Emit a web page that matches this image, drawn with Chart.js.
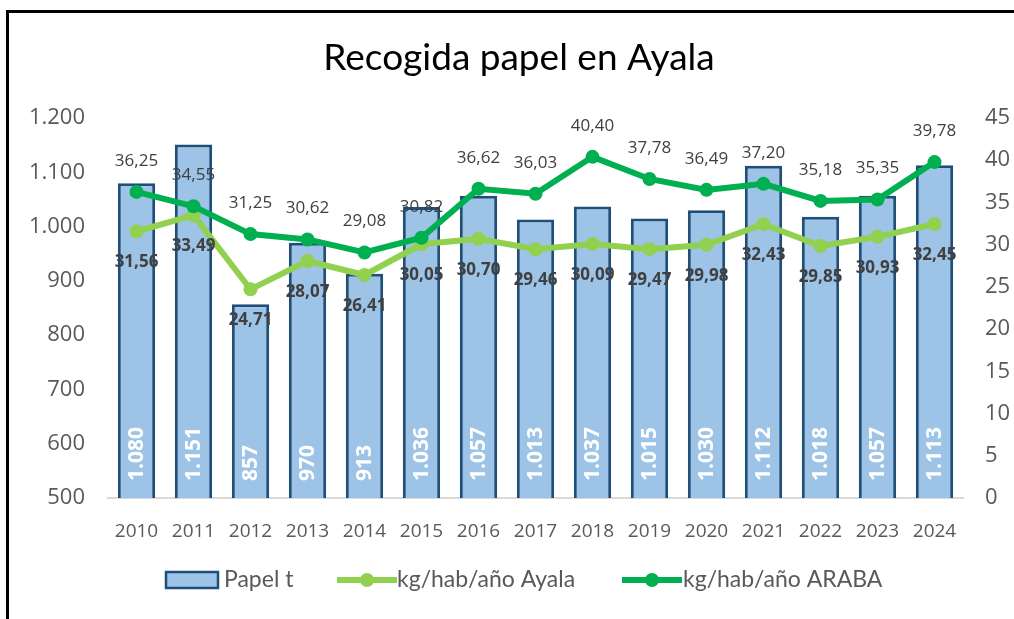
<!DOCTYPE html>
<html>
<head>
<meta charset="utf-8">
<script src="https://cdn.jsdelivr.net/npm/chart.js@4.4.1/dist/chart.umd.min.js"></script>
<style>
  html, body { margin: 0; padding: 0; background: #fff; overflow: hidden; }
  #wrap { position: relative; width: 1014px; height: 619px; overflow: hidden; }
  #frame { position: absolute; left: 6px; top: 10px; width: 1100px; height: 700px;
           border-left: 3px solid #000; border-top: 3px solid #000; }
  canvas { position: absolute; left: 0; top: 0; }
</style>
</head>
<body>
<div id="wrap">
  <canvas id="chart" width="1014" height="619"></canvas>
  <div id="frame"></div>
</div>
<script>
// data
var years = ['2010', '2011', '2012', '2013', '2014', '2015', '2016', '2017',
  '2018', '2019', '2020', '2021', '2022', '2023', '2024'];
var papel = [1080, 1151, 857, 970, 913, 1036, 1057, 1013, 1037, 1015, 1030, 1112, 1018, 1057, 1113];
var ayala = [31.56, 33.49, 24.71, 28.07, 26.41, 30.05, 30.70, 29.46, 30.09, 29.47, 29.98, 32.43, 29.85, 30.93, 32.45];
var araba = [36.25, 34.55, 31.25, 30.62, 29.08, 30.82, 36.62, 36.03, 40.40, 37.78, 36.49, 37.20, 35.18, 35.35, 39.78];
var seriesNames = ['Papel t', 'kg/hab/año Ayala', 'kg/hab/año ARABA'];
var title = 'Recogida papel en Ayala';

var TICK = '#595959';
var LABEL = '#404040';

function fmtInt(v) {
  var s = String(Math.round(v));
  return s.replace(/\B(?=(\d{3})+(?!\d))/g, '.');
}
function fmtDec(v) {
  return v.toFixed(2).replace('.', ',');
}

// title, value labels and legend drawn on the canvas
var extras = {
  id: 'extras',
  afterDatasetsDraw: function(chart) {
    var ctx = chart.ctx;
    var bottom = chart.chartArea.bottom;
    ctx.save();

    // bar values, rotated, white, from the base
    var bars = chart.getDatasetMeta(0).data;
    ctx.font = 'bold 21px "Open Sans"';
    ctx.textAlign = 'left';
    ctx.textBaseline = 'middle';
    bars.forEach(function(el, i) {
      ctx.save();
      ctx.fillStyle = '#ffffff';
      ctx.translate(el.x + 1, bottom - 17);
      ctx.rotate(-Math.PI / 2);
      ctx.fillText(fmtInt(papel[i]), 0, 0);
      ctx.restore();
    });

    // ARABA labels above
    ctx.textAlign = 'center';
    ctx.fillStyle = LABEL;
    ctx.font = '17px "Open Sans"';
    chart.getDatasetMeta(2).data.forEach(function(el, i) {
      ctx.fillText(fmtDec(araba[i]), el.x, el.y - 31);
    });

    // Ayala labels below
    ctx.font = 'bold 17px "Open Sans"';
    chart.getDatasetMeta(1).data.forEach(function(el, i) {
      ctx.fillText(fmtDec(ayala[i]), el.x, el.y + 31);
    });
    ctx.restore();
  },
  afterDraw: function(chart) {
    var ctx = chart.ctx;
    ctx.save();
    ctx.fillStyle = '#000';
    ctx.font = '37px Lato';
    ctx.textAlign = 'center';
    ctx.textBaseline = 'middle';
    ctx.fillText(title, 519, 58);

    // legend
    var y = 580;
    ctx.font = '23px Lato';
    ctx.textAlign = 'left';
    ctx.fillStyle = '#9DC3E6';
    ctx.fillRect(166, y - 8, 52, 16);
    ctx.strokeStyle = '#1F4E79';
    ctx.lineWidth = 2.5;
    ctx.strokeRect(166, y - 8, 52, 16);
    ctx.fillStyle = TICK;
    ctx.fillText(seriesNames[0], 224, y);

    var items = [[337, '#92D050', seriesNames[1], 397], [622, '#00B050', seriesNames[2], 683]];
    items.forEach(function(it) {
      ctx.strokeStyle = it[1];
      ctx.lineWidth = 6;
      ctx.beginPath();
      ctx.moveTo(it[0], y);
      ctx.lineTo(it[0] + 60, y);
      ctx.stroke();
      ctx.fillStyle = it[1];
      ctx.beginPath();
      ctx.arc(it[0] + 30, y, 7, 0, Math.PI * 2);
      ctx.fill();
      ctx.fillStyle = TICK;
      ctx.fillText(it[2], it[3], y);
    });
    ctx.restore();
  }
};

var chart = new Chart(document.getElementById('chart'), {
  type: 'bar',
  data: {
    labels: years,
    datasets: [{
      label: seriesNames[0],
      data: papel,
      yAxisID: 'y',
      backgroundColor: '#9DC3E6',
      borderColor: '#1F4E79',
      borderWidth: 3,
      barPercentage: 0.655,
      categoryPercentage: 1,
      order: 3
    }, {
      type: 'line',
      label: seriesNames[1],
      data: ayala,
      yAxisID: 'y1',
      borderColor: '#92D050',
      backgroundColor: '#92D050',
      borderWidth: 6,
      pointRadius: 7,
      pointBorderWidth: 0,
      tension: 0,
      order: 2
    }, {
      type: 'line',
      label: seriesNames[2],
      data: araba,
      yAxisID: 'y1',
      borderColor: '#00B050',
      backgroundColor: '#00B050',
      borderWidth: 6,
      pointRadius: 7,
      pointBorderWidth: 0,
      tension: 0,
      order: 1
    }]
  },
  options: {
    responsive: false,
    animation: false,
    layout: { padding: { top: 118, bottom: 81, left: 0, right: 0 } },
    plugins: {
      legend: { display: false },
      title: { display: false },
      tooltip: { enabled: false }
    },
    scales: {
      x: {
        grid: { display: false },
        border: { color: '#D9D9D9', width: 2 },
        ticks: { color: TICK, font: { family: 'Open Sans', size: 19 }, padding: 14, maxRotation: 0 },
        afterFit: function(s) { s.height = 40; }
      },
      y: {
        position: 'left',
        min: 500, max: 1200,
        grid: { display: false, drawTicks: false },
        border: { display: false },
        ticks: { stepSize: 100, color: TICK, font: { family: 'Open Sans', size: 22 }, padding: 23,
          callback: function(v) { return fmtInt(v); } },
        afterFit: function(s) { s.width = 108; }
      },
      y1: {
        position: 'right',
        min: 0, max: 45,
        grid: { display: false, drawTicks: false },
        border: { display: false },
        ticks: { stepSize: 5, color: TICK, font: { family: 'Open Sans', size: 22 }, padding: 22 },
        afterFit: function(s) { s.width = 51; }
      }
    }
  },
  plugins: [extras]
});
</script>
</body>
</html>
